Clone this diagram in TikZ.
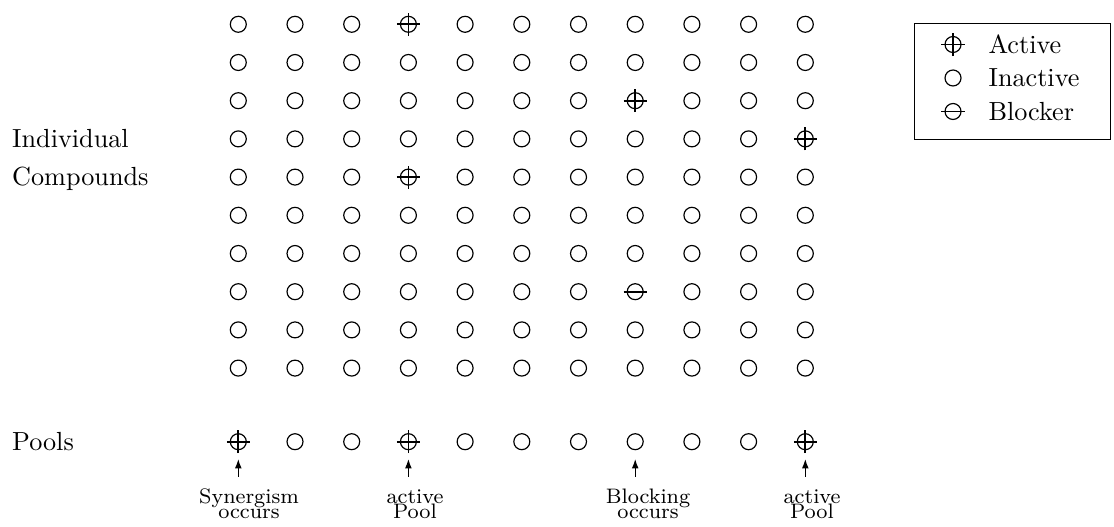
\documentclass[tikz,border=0pt]{standalone}
\usetikzlibrary{arrows.meta}
\begin{document}
\begin{tikzpicture}[x=0.3817pt,y=-0.3817pt,
  cmp/.style={circle, draw, line width=0.45pt, minimum size=6.1pt, inner sep=0pt},
  bar/.style={line width=0.65pt},
  lbl/.style={inner sep=0pt, anchor=base west},
  note/.style={inner sep=0pt, anchor=north, align=center, font=\footnotesize},
  ptr/.style={line width=0.5pt, -{Latex[length=3.6pt,width=2.6pt]},
              shorten <=3.3pt, shorten >=3.3pt},
  legbox/.style={draw, line width=0.4pt}]
\useasboundingbox (0,0) rectangle (1114,527);

% grid of individual compounds
\foreach \r in {1,...,10}
  \foreach \c in {1,...,11}
    \node[cmp] (c-\r-\c) at ({238.3+56.7*(\c-1)}, {24.3+38.2*(\r-1)}) {};

% row of pools
\foreach \c in {1,...,11}
  \node[cmp] (p-\c) at ({238.3+56.7*(\c-1)}, 441.7) {};

% active compounds and pools get a cross
\foreach \n in {c-1-4, c-3-8, c-4-11, c-5-4, p-1, p-4, p-11}
  \draw[bar] ([xshift=-4.4pt]\n.center) -- ([xshift=4.4pt]\n.center)
             ([yshift=-4.4pt]\n.center) -- ([yshift=4.4pt]\n.center);
% blocker gets a bar
\draw[bar] ([xshift=-4.4pt]c-8-8.center) -- ([xshift=4.4pt]c-8-8.center);

% row labels
\node[lbl] (indiv) at (11.7, 147.8) {Individual};
\node[lbl] (comp) at (11.7, 186.0) {Compounds};
\node[lbl] (pools) at (11.7, 450.6) {Pools};

% notes under the pools
\node[note] (n1) at (249, 485.6) {\strut Synergism\\[-3.8pt]occurs};
\node[note] (n4) at (415, 485.6) {\strut active\\[-3.8pt]Pool};
\node[note] (n8) at (648, 485.6) {\strut Blocking\\[-3.8pt]occurs};
\node[note] (n11) at (812, 485.6) {\strut active\\[-3.8pt]Pool};
\draw[ptr] (n1.north -| p-1) -- (p-1.south);
\draw[ptr] (n4.north -| p-4) -- (p-4.south);
\draw[ptr] (n8.north -| p-8) -- (p-8.south);
\draw[ptr] (n11.north -| p-11) -- (p-11.south);

% legend
\node[legbox, minimum width=196*0.3817pt, minimum height=116*0.3817pt,
      anchor=north west, inner sep=0pt] (leg) at (914, 23) {};
\node[cmp] (la) at (953, 44.5) {};
\draw[bar] ([xshift=-4.4pt]la.center) -- ([xshift=4.4pt]la.center)
           ([yshift=-4.4pt]la.center) -- ([yshift=4.4pt]la.center);
\node[cmp] (li) at (953, 78) {};
\node[cmp] (lb) at (953, 111.5) {};
\draw[bar] ([xshift=-4.4pt]lb.center) -- ([xshift=4.4pt]lb.center);
\node[lbl] (ta) at (988, 53.4) {Active};
\node[lbl] (ti) at (988, 86.9) {Inactive};
\node[lbl] (tb) at (988, 120.4) {Blocker};
\end{tikzpicture}
\end{document}
